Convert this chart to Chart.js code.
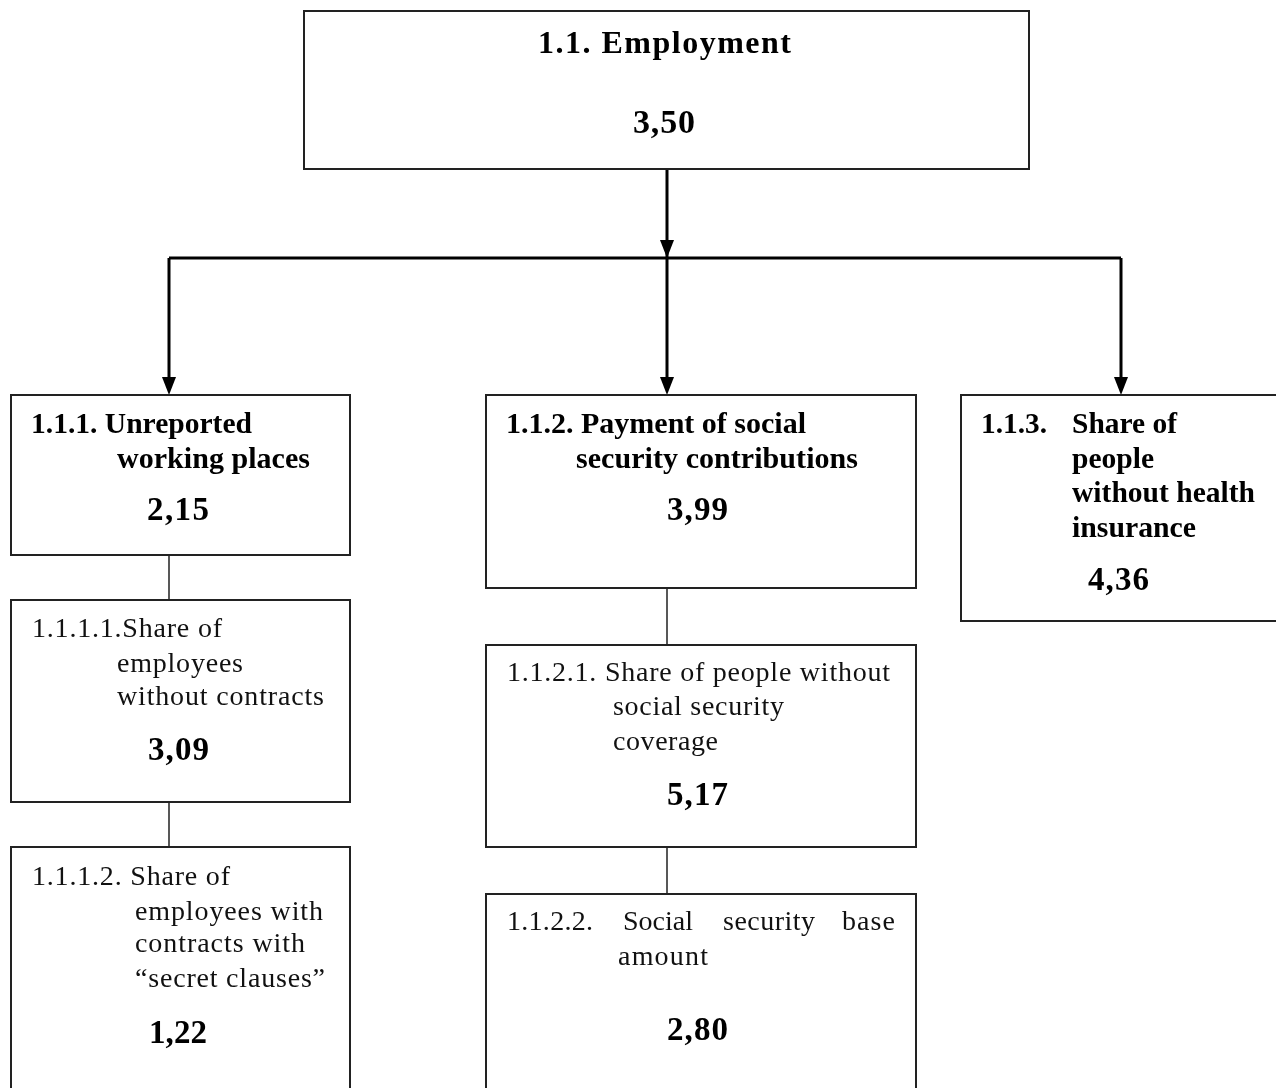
<!DOCTYPE html>
<html>
<head>
<meta charset="utf-8">
<script src="https://cdn.jsdelivr.net/npm/chart.js@4.4.1/dist/chart.umd.min.js"></script>
<style>
  html, body { margin: 0; padding: 0; background: #fff; }
  #tree { display: block; }
</style>
</head>
<body>
<canvas id="tree" width="1276" height="1088"></canvas>
<script>
// indicator tree: codes, scores and the text lines as they wrap in the source
const nodeCodes = ['1.1.', '1.1.1.', '1.1.2.', '1.1.3.', '1.1.1.1.', '1.1.1.2.', '1.1.2.1.', '1.1.2.2.'];
const nodeParents = [null, 0, 0, 0, 1, 4, 2, 6];
const nodeScores = [3.50, 2.15, 3.99, 4.36, 3.09, 1.22, 5.17, 2.80];
const nodeText = [
    ['1.1. Employment'],
    ['1.1.1. Unreported', 'working places'],
    ['1.1.2. Payment of social', 'security contributions'],
    ['1.1.3.', 'Share of', 'people', 'without health', 'insurance'],
    ['1.1.1.1.Share of', 'employees', 'without contracts'],
    ['1.1.1.2. Share of', 'employees with', 'contracts with', '\u201Csecret clauses\u201D'],
    ['1.1.2.1. Share of people without', 'social security', 'coverage'],
    ['1.1.2.2.', 'Social', 'security', 'base', 'amount']
];

// layout (page units, same as the hidden scales)
const boxes = [
    [304, 11, 1029, 169],
    [11, 395, 350, 555],
    [486, 395, 916, 588],
    [961, 395, 1290, 621],
    [11, 600, 350, 802],
    [11, 847, 350, 1100],
    [486, 645, 916, 847],
    [486, 894, 916, 1100]
];
const anchorX = [667, 169, 667, 1121, 169, 169, 667, 667];
const busY = 258;
const textPos = [
    [[538, 53, 253]],
    [[31, 433, 221], [117, 468, 193]],
    [[506, 433, 300], [576, 468, 282]],
    [[981, 433, 66], [1072, 433, 105], [1072, 468, 82], [1072, 502, 183], [1072, 537, 124]],
    [[32, 637, 190], [117, 672, 126], [117, 705, 207]],
    [[32, 885, 198], [135, 920, 188], [135, 952, 170], [135, 987, 190]],
    [[507, 681, 383], [613, 715, 171], [613, 750, 105]],
    [[507, 930, 86], [623, 930, 70], [723, 930, 92], [842, 930, 53], [618, 965, 90]]
];
const scorePos = [
    [633, 133, 62], [147, 520, 62], [667, 520, 61], [1088, 590, 61],
    [148, 760, 61], [149, 1043, 58], [667, 805, 61], [667, 1040, 61]
];
const boldText = [true, true, true, true, false, false, false, false];

function fmtScore(v) {
    return v.toFixed(2).replace('.', ',');
}

function fitText(ctx, text, x, y, w) {
    ctx.letterSpacing = '0px';
    const nat = ctx.measureText(text).width;
    const n = [...text].length;
    if (nat >= w || n < 2) {
        ctx.fillText(text, x, y, w);
    } else {
        ctx.letterSpacing = ((w - nat) / (n - 1)) + 'px';
        ctx.fillText(text, x, y);
        ctx.letterSpacing = '0px';
    }
}

function arrowHead(ctx, x, tipY) {
    ctx.beginPath();
    ctx.moveTo(x, tipY);
    ctx.lineTo(x - 7, tipY - 18);
    ctx.lineTo(x + 7, tipY - 18);
    ctx.closePath();
    ctx.fill();
}

const treePlugin = {
    id: 'tree',
    afterDraw(chart) {
        const ctx = chart.ctx;
        const xs = chart.scales.x, ys = chart.scales.y;
        const px = v => xs.getPixelForValue(v);
        const py = v => ys.getPixelForValue(v);
        ctx.save();

        // connectors
        ctx.strokeStyle = '#000';
        ctx.fillStyle = '#000';
        const root = nodeParents.indexOf(null);
        const topKids = nodeParents.map((p, i) => p === root ? i : -1).filter(i => i >= 0);
        ctx.lineWidth = 3;
        ctx.beginPath();
        ctx.moveTo(px(anchorX[root]), py(boxes[root][3]));
        ctx.lineTo(px(anchorX[root]), py(busY));
        const kx = topKids.map(i => anchorX[i]);
        ctx.moveTo(px(Math.min(...kx)), py(busY));
        ctx.lineTo(px(Math.max(...kx)), py(busY));
        topKids.forEach(i => {
            ctx.moveTo(px(anchorX[i]), py(busY));
            ctx.lineTo(px(anchorX[i]), py(boxes[i][1]) - 10);
        });
        ctx.stroke();
        arrowHead(ctx, px(anchorX[root]), py(busY));
        topKids.forEach(i => arrowHead(ctx, px(anchorX[i]), py(boxes[i][1])));

        ctx.lineWidth = 1.5;
        ctx.strokeStyle = '#222';
        ctx.beginPath();
        nodeParents.forEach((p, i) => {
            if (p === null || p === root) return;
            ctx.moveTo(px(anchorX[i]), py(boxes[p][3]));
            ctx.lineTo(px(anchorX[i]), py(boxes[i][1]));
        });
        ctx.stroke();

        // boxes
        ctx.lineWidth = 2;
        ctx.strokeStyle = '#222';
        boxes.forEach(b => {
            ctx.fillStyle = '#fff';
            ctx.fillRect(px(b[0]), py(b[1]), px(b[2]) - px(b[0]), py(b[3]) - py(b[1]));
            ctx.strokeRect(px(b[0]), py(b[1]), px(b[2]) - px(b[0]), py(b[3]) - py(b[1]));
        });

        // text
        ctx.textBaseline = 'alphabetic';
        ctx.textAlign = 'left';
        nodeText.forEach((lines, i) => {
            ctx.fillStyle = boldText[i] ? '#000' : '#111';
            const size = i === root ? 32 : (boldText[i] ? 30 : 28);
            ctx.font = (boldText[i] ? 'bold ' : '') + size + 'px "Liberation Serif", serif';
            lines.forEach((t, j) => {
                const p = textPos[i][j];
                fitText(ctx, t, px(p[0]), py(p[1]), px(p[0] + p[2]) - px(p[0]));
            });
            const s = scorePos[i];
            ctx.fillStyle = '#000';
            ctx.font = 'bold ' + (i === root ? 34 : 33) + 'px "Liberation Serif", serif';
            fitText(ctx, fmtScore(nodeScores[i]), px(s[0]), py(s[1]), px(s[0] + s[2]) - px(s[0]));
        });
        ctx.restore();
    }
};

const chart_tree = new Chart(document.getElementById('tree').getContext('2d'), {
    type: 'scatter',
    data: {
        datasets: [{
            label: 'nodes',
            data: nodeCodes.map((c, i) => ({ x: anchorX[i], y: scorePos[i][1] })),
            pointRadius: 0,
            showLine: false
        }]
    },
    options: {
        responsive: false,
        animation: false,
        layout: { padding: 0 },
        plugins: { legend: { display: false }, tooltip: { enabled: false } },
        scales: {
            x: { type: 'linear', min: 0, max: 1276, display: false },
            y: { type: 'linear', min: 0, max: 1088, reverse: true, display: false }
        }
    },
    plugins: [treePlugin]
});
</script>
</body>
</html>
